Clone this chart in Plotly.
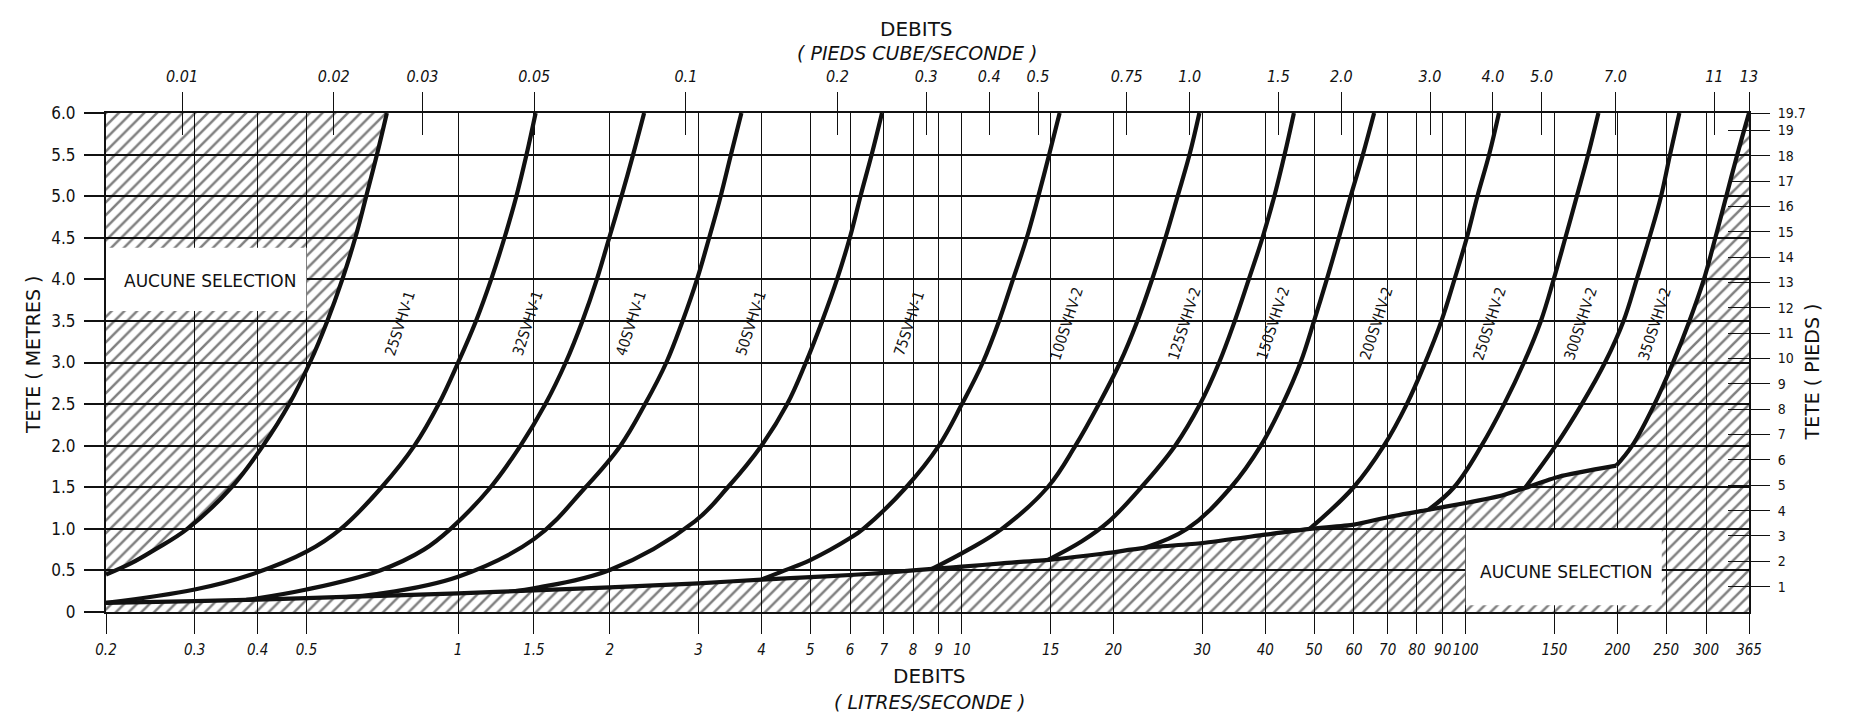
import numpy as np
import plotly.graph_objects as go

# ---------------- axis limits / conversions ----------------
Q_MIN, Q_MAX = 0.2, 365.0          # L/s
H_MIN, H_MAX = 0.0, 6.0            # m
FT_PER_M = 1 / 0.3048
LPS_PER_CFS = 28.3168

# ---------------- tick labels ----------------
BOTTOM_TICK_VALS = [0.2, 0.3, 0.4, 0.5, 1, 1.414, 2, 3, 4, 5, 6, 7, 8, 9, 10, 15, 20, 30,
                    40, 50, 60, 70, 80, 90, 100, 150, 200, 250, 300, 365]
BOTTOM_TICK_TEXT = ["0.2", "0.3", "0.4", "0.5", "1", "1.5", "2", "3", "4", "5", "6", "7", "8",
                    "9", "10", "15", "20", "30", "40", "50", "60", "70", "80", "90", "100",
                    "150", "200", "250", "300", "365"]
TOP_CFS_VALS = [0.01, 0.02, 0.03, 0.05, 0.1, 0.2, 0.3, 0.4, 0.5, 0.75, 1.0, 1.5, 2.0, 3.0,
                4.0, 5.0, 7.0, 11, 13]
TOP_CFS_TEXT = ["0.01", "0.02", "0.03", "0.05", "0.1", "0.2", "0.3", "0.4", "0.5", "0.75",
                "1.0", "1.5", "2.0", "3.0", "4.0", "5.0", "7.0", "11", "13"]
LEFT_TICK_VALS = [0, 0.5, 1.0, 1.5, 2.0, 2.5, 3.0, 3.5, 4.0, 4.5, 5.0, 5.5, 6.0]
LEFT_TICK_TEXT = ["0", "0.5", "1.0", "1.5", "2.0", "2.5", "3.0", "3.5", "4.0", "4.5", "5.0",
                  "5.5", "6.0"]
RIGHT_FT_VALS = list(range(1, 20))
RIGHT_FT_TEXT = [str(v) for v in RIGHT_FT_VALS]

# ---------------- lower envelope (flow L/s, head m) ----------------
ENV_Q = [0.2, 0.3, 0.4, 0.5, 0.7, 1.0, 1.414, 2.0, 3.0, 4.0, 5.0, 6.0, 7.0, 8.0, 9.0, 10.0,
         12.0, 15.0, 19.0, 23.0, 30.0, 40.0, 49.0, 60.0, 70.0, 84.4, 100.0, 118.0, 131.0,
         153.0, 199.0]
ENV_H = [0.11, 0.13, 0.15, 0.167, 0.195, 0.225, 0.26, 0.295, 0.345, 0.39, 0.42, 0.445, 0.47,
         0.50, 0.525, 0.545, 0.585, 0.63, 0.70, 0.77, 0.83, 0.93, 1.0, 1.05, 1.14, 1.23,
         1.31, 1.40, 1.49, 1.627, 1.76]

# ---------------- selection curves (flow L/s, head m) ----------------
C01_Q = [0.2, 0.225, 0.25, 0.29, 0.355, 0.41, 0.462, 0.508, 0.55, 0.589, 0.625, 0.657, 0.69, 0.722]
C01_H = [0.45, 0.59, 0.75, 1.0, 1.5, 2.0, 2.5, 3.0, 3.5, 4.0, 4.5, 5.0, 5.5, 6.0]
C02_Q = [0.2, 0.3, 0.386, 0.5, 0.585, 0.705, 0.819, 0.915, 1.0, 1.085, 1.163, 1.236, 1.305, 1.367, 1.425]
C02_H = [0.11, 0.27, 0.445, 0.725, 1.0, 1.5, 2.0, 2.5, 3.0, 3.5, 4.0, 4.5, 5.0, 5.5, 6.0]
C03_Q = [0.38, 0.5, 0.70, 0.855, 0.966, 1.16, 1.33, 1.49, 1.635, 1.765, 1.885, 1.995, 2.11, 2.225, 2.34]
C03_H = [0.145, 0.27, 0.5, 0.75, 1.0, 1.5, 2.0, 2.5, 3.0, 3.5, 4.0, 4.5, 5.0, 5.5, 6.0]
C04_Q = [0.6, 0.69, 1.0, 1.414, 1.79, 2.10, 2.35, 2.59, 2.79, 2.98, 3.15, 3.32, 3.48, 3.65]
C04_H = [0.18, 0.215, 0.425, 0.876, 1.5, 2.0, 2.5, 3.0, 3.5, 4.0, 4.5, 5.0, 5.5, 6.0]
C05_Q = [1.3, 1.414, 2.0, 2.95, 3.43, 4.0, 4.5, 4.9, 5.28, 5.65, 5.99, 6.29, 6.62, 6.94]
C05_H = [0.25, 0.285, 0.505, 1.09, 1.5, 2.0, 2.5, 3.0, 3.5, 4.0, 4.5, 5.0, 5.5, 6.0]
C06_Q = [4.0, 4.45, 5.0, 6.0, 6.37, 7.75, 9.0, 10.0, 11.0, 11.85, 12.63, 13.45, 14.18, 14.9, 15.63]
C06_H = [0.39, 0.5, 0.625, 0.89, 1.0, 1.5, 2.0, 2.5, 3.0, 3.5, 4.0, 4.5, 5.0, 5.5, 6.0]
C07_Q = [8.7, 10.3, 12.0, 14.8, 16.8, 18.7, 20.6, 22.3, 23.85, 25.35, 26.8, 28.3, 29.6]
C07_H = [0.515, 0.75, 1.0, 1.5, 2.0, 2.5, 3.0, 3.5, 4.0, 4.5, 5.0, 5.5, 6.0]
C08_Q = [14.8, 17.3, 19.5, 22.7, 26.5, 29.7, 32.4, 34.8, 37.1, 39.5, 41.7, 43.7, 45.6]
C08_H = [0.625, 0.85, 1.08, 1.5, 2.0, 2.5, 3.0, 3.5, 4.0, 4.5, 5.0, 5.5, 6.0]
C09_Q = [23.0, 28.0, 34.2, 39.2, 43.3, 47.0, 50.0, 53.0, 56.0, 59.1, 62.5, 65.8]
C09_H = [0.77, 1.0, 1.5, 2.0, 2.5, 3.0, 3.5, 4.0, 4.5, 5.0, 5.5, 6.0]
C10_Q = [49.0, 59.9, 68.8, 76.4, 83.1, 89.5, 95.0, 100.5, 105.5, 111.3, 116.4]
C10_H = [1.0, 1.5, 2.0, 2.5, 3.0, 3.5, 4.0, 4.5, 5.0, 5.5, 6.0]
C11_Q = [84.4, 94.8, 107.5, 119.2, 130.5, 141.0, 149.5, 157.7, 166.2, 175.0, 183.4]
C11_H = [1.23, 1.5, 2.0, 2.5, 3.0, 3.5, 4.0, 4.5, 5.0, 5.5, 6.0]
C12_Q = [131.0, 150.8, 170.0, 189.0, 205.7, 218.5, 231.5, 244.2, 254.4, 265.5]
C12_H = [1.49, 2.0, 2.5, 3.0, 3.5, 4.0, 4.5, 5.0, 5.5, 6.0]
C13_Q = [199.0, 214.0, 237.0, 258.0, 278.0, 297.0, 313.0, 329.0, 346.0, 365.0]
C13_H = [1.76, 2.0, 2.5, 3.0, 3.5, 4.0, 4.5, 5.0, 5.5, 6.0]

CURVE_LABELS = ["25SVHV-1", "32SVHV-1", "40SVHV-1", "50SVHV-1", "75SVHV-1", "100SVHV-2",
                "125SVHV-2", "150SVHV-2", "200SVHV-2", "250SVHV-2", "300SVHV-2", "350SVHV-2"]

# no-selection caption boxes (flow range, head range) and caption positions
BOX_UL_Q, BOX_UL_H = [0.2, 0.5], [3.62, 4.38]
BOX_LR_Q, BOX_LR_H = [100.0, 245.0], [0.08, 0.985]
NOSEL_TEXT = "AUCUNE SELECTION"
NOSEL_UL_POS = (0.322, 3.98)
NOSEL_LR_POS = (158.0, 0.485)
LABEL_HEAD = 3.47

CURVES = [(C01_Q, C01_H), (C02_Q, C02_H), (C03_Q, C03_H), (C04_Q, C04_H), (C05_Q, C05_H),
          (C06_Q, C06_H), (C07_Q, C07_H), (C08_Q, C08_H), (C09_Q, C09_H), (C10_Q, C10_H),
          (C11_Q, C11_H), (C12_Q, C12_H), (C13_Q, C13_H)]

FONT_FAM = "DejaVu Sans Condensed, DejaVu Sans, sans-serif"
FONT_REG = "DejaVu Sans, sans-serif"
INK = "#111111"

fig = go.Figure()

hatch = dict(shape="/", size=9, solidity=0.28, fgcolor="black", bgcolor="rgba(0,0,0,0)")

# upper-left no-selection hatch (left of first curve)
ul_x = [Q_MIN] + C01_Q + [Q_MIN]
ul_y = [C01_H[0]] + C01_H + [H_MAX]
fig.add_trace(go.Scatter(x=ul_x, y=ul_y, fill="toself", mode="lines", line=dict(width=0),
                         fillcolor="rgba(0,0,0,0)", fillpattern=hatch, hoverinfo="skip",
                         showlegend=False))

# lower / right no-selection hatch (below envelope, right of last curve)
lr_x = [Q_MIN] + ENV_Q + C13_Q[1:] + [Q_MAX, Q_MAX]
lr_y = [H_MIN] + ENV_H + C13_H[1:] + [H_MAX, H_MIN]
fig.add_trace(go.Scatter(x=lr_x, y=lr_y, fill="toself", mode="lines", line=dict(width=0),
                         fillcolor="rgba(0,0,0,0)", fillpattern=hatch, hoverinfo="skip",
                         showlegend=False))

# white caption boxes
for bq, bh in [(BOX_UL_Q, BOX_UL_H), (BOX_LR_Q, BOX_LR_H)]:
    fig.add_trace(go.Scatter(x=[bq[0], bq[1], bq[1], bq[0], bq[0]],
                             y=[bh[0], bh[0], bh[1], bh[1], bh[0]],
                             fill="toself", fillcolor="white", mode="lines",
                             line=dict(width=0), hoverinfo="skip", showlegend=False))

# envelope and selection curves
fig.add_trace(go.Scatter(x=ENV_Q, y=ENV_H, mode="lines",
                         line=dict(color=INK, width=4.2, shape="spline", smoothing=0.6),
                         hoverinfo="skip", showlegend=False))
for q, h in CURVES:
    fig.add_trace(go.Scatter(x=q, y=h, mode="lines",
                             line=dict(color=INK, width=4.2, shape="spline", smoothing=1.1),
                             hoverinfo="skip", showlegend=False))

# dummy traces so the overlay axes are drawn
for xa, ya in [("x2", "y"), ("x3", "y"), ("x", "y2"), ("x", "y3")]:
    fig.add_trace(go.Scatter(x=[None], y=[None], xaxis=xa, yaxis=ya, mode="lines",
                             showlegend=False, hoverinfo="skip"))

# curve labels between consecutive curves
ann = []
for i, lab in enumerate(CURVE_LABELS):
    qa = np.interp(LABEL_HEAD, CURVES[i][1], np.log10(CURVES[i][0]))
    qb = np.interp(LABEL_HEAD, CURVES[i + 1][1], np.log10(CURVES[i + 1][0]))
    ann.append(dict(x=0.5 * (qa + qb), y=LABEL_HEAD, xref="x", yref="y",
                    text=lab, showarrow=False, textangle=-72,
                    font=dict(family=FONT_FAM, size=15, color=INK)))

for (qx, hy) in [NOSEL_UL_POS, NOSEL_LR_POS]:
    ann.append(dict(x=np.log10(qx), y=hy, xref="x", yref="y", text=NOSEL_TEXT,
                    showarrow=False, font=dict(family=FONT_REG, size=17, color=INK)))

title_font = dict(family=FONT_REG, size=20, color=INK)
sub_font = dict(family=FONT_REG, size=19, color=INK, style="italic")
ann += [
    dict(text="DEBITS", xref="paper", yref="paper", x=0.4936, y=1, yshift=98,
         showarrow=False, font=title_font),
    dict(text="( PIEDS CUBE/SECONDE )", xref="paper", yref="paper", x=0.4936, y=1,
         yshift=73, showarrow=False, font=sub_font),
    dict(text="DEBITS", xref="paper", yref="paper", x=0.5015, y=0, yshift=-78,
         showarrow=False, font=title_font),
    dict(text="( LITRES/SECONDE )", xref="paper", yref="paper", x=0.5015, y=0,
         yshift=-103, showarrow=False, font=sub_font),
    dict(text="TETE ( METRES )", xref="paper", yref="paper", x=0, xshift=-86, y=0.515,
         textangle=-90, showarrow=False, font=dict(family=FONT_REG, size=19, color=INK)),
    dict(text="TETE ( PIEDS )", xref="paper", yref="paper", x=1, xshift=76, y=0.48,
         textangle=-90, showarrow=False, font=dict(family=FONT_REG, size=19, color=INK)),
]

xr = [np.log10(Q_MIN), np.log10(Q_MAX)]
top_vals = [min(v * LPS_PER_CFS, Q_MAX) for v in TOP_CFS_VALS]
ft_vals = RIGHT_FT_VALS + [H_MAX * FT_PER_M]

fig.update_layout(
    width=1850, height=728,
    margin=dict(l=106, r=101, t=113, b=116),
    paper_bgcolor="white", plot_bgcolor="white",
    showlegend=False,
    annotations=ann,
    xaxis=dict(type="log", range=xr, tickmode="array", tickvals=BOTTOM_TICK_VALS,
               ticktext=BOTTOM_TICK_TEXT, ticks="outside", ticklen=20, tickwidth=1,
               tickcolor=INK, showgrid=True, gridcolor=INK, gridwidth=1, showline=True,
               linecolor=INK, linewidth=2, mirror=True, zeroline=False, tickangle=0,
               ticklabelstandoff=3,
               tickfont=dict(family=FONT_FAM, size=15, color=INK, style="italic"),
               anchor="y"),
    xaxis2=dict(type="log", range=xr, overlaying="x", side="top", anchor="y",
                tickmode="array", tickvals=top_vals, ticktext=TOP_CFS_TEXT, ticks="outside",
                ticklen=20, tickwidth=1, tickcolor=INK, showgrid=False, showline=False,
                zeroline=False, tickangle=0, ticklabelstandoff=4,
                tickfont=dict(family=FONT_FAM, size=16, color=INK, style="italic")),
    xaxis3=dict(type="log", range=xr, overlaying="x", side="top", anchor="y",
                tickmode="array", tickvals=top_vals, ticks="inside", ticklen=22, tickwidth=1,
                tickcolor=INK, showticklabels=False, showgrid=False, showline=False,
                zeroline=False),
    yaxis=dict(range=[H_MIN, H_MAX], tickmode="array", tickvals=LEFT_TICK_VALS,
               ticktext=LEFT_TICK_TEXT, ticks="outside", ticklen=20, tickwidth=2,
               tickcolor=INK, showgrid=True, gridcolor=INK, gridwidth=2, showline=True,
               linecolor=INK, linewidth=2, mirror=True, zeroline=False,
               ticklabelstandoff=5,
               tickfont=dict(family=FONT_FAM, size=17, color=INK), anchor="x"),
    yaxis2=dict(range=[H_MIN * FT_PER_M, H_MAX * FT_PER_M], overlaying="y", side="right",
                anchor="x", tickmode="array", tickvals=ft_vals,
                ticktext=RIGHT_FT_TEXT + ["19.7"], ticks="outside", ticklen=20, tickwidth=1,
                tickcolor=INK, showgrid=False, showline=False, zeroline=False,
                ticklabelstandoff=5,
                tickfont=dict(family=FONT_FAM, size=14, color=INK)),
    yaxis3=dict(range=[H_MIN * FT_PER_M, H_MAX * FT_PER_M], overlaying="y", side="right",
                anchor="x", tickmode="array", tickvals=ft_vals,
                ticks="inside", ticklen=21, tickwidth=1, tickcolor=INK,
                showticklabels=False, showgrid=False, showline=False, zeroline=False),
)

fig.write_html("out.html")
